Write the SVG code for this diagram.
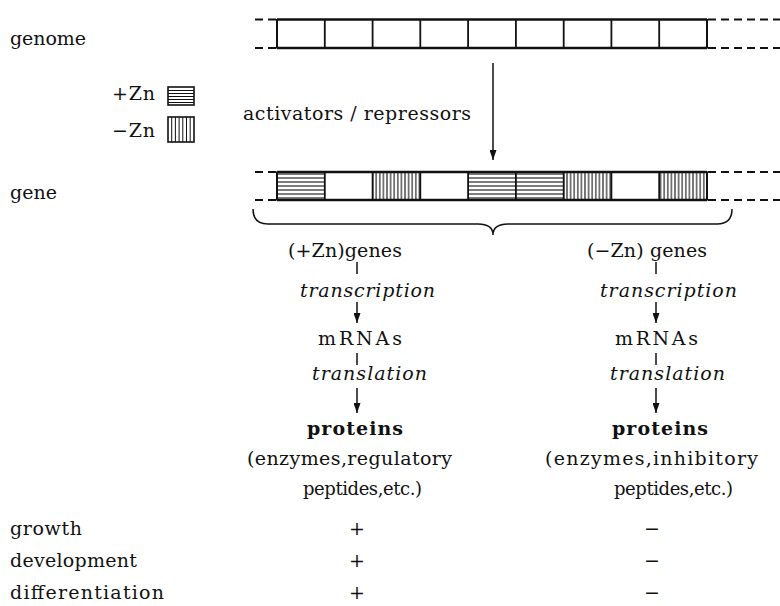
<svg xmlns="http://www.w3.org/2000/svg" width="780" height="606" viewBox="0 0 780 606">
<style>
text{font-family:"DejaVu Serif","Liberation Serif",serif;font-size:19px;fill:#111}
.it{font-style:italic}
.b{font-weight:bold}
.sm{font-size:18px}
.bar{fill:none;stroke:#111;stroke-width:2.6}
.side{stroke:#111;stroke-width:2}
.div{stroke:#111;stroke-width:1.8}
.dash{stroke:#111;stroke-width:1.8;stroke-dasharray:8 5;fill:none}
.ln{stroke:#111;stroke-width:1.5;fill:none}
.hl{stroke:#111;stroke-width:1}
</style>
<defs>
<pattern id="hh" patternUnits="userSpaceOnUse" x="0" y="172" width="8" height="4"><line x1="0" y1="2" x2="8" y2="2" stroke="#111" stroke-width="1.1"/></pattern>
<pattern id="vv" patternUnits="userSpaceOnUse" x="0" y="0" width="3.6" height="8"><line x1="1.8" y1="0" x2="1.8" y2="8" stroke="#111" stroke-width="1.1"/></pattern>
<marker id="ah" markerWidth="10" markerHeight="7" refX="10" refY="3.5" orient="auto" markerUnits="userSpaceOnUse" viewBox="0 0 10 7"><path d="M0,0 L10,3.5 L0,7 Z" fill="#111"/></marker>
</defs>

<g id="labels">
<text x="10" y="45" textLength="76" lengthAdjust="spacing">genome</text>
<text x="10" y="199" textLength="47" lengthAdjust="spacing">gene</text>
<text x="112" y="100" textLength="43" lengthAdjust="spacing">+Zn</text>
<text x="112" y="137" textLength="43" lengthAdjust="spacing">−Zn</text>
<text x="243" y="120" textLength="228" lengthAdjust="spacing">activators / repressors</text>
</g>

<g id="legend-plus">
<rect x="168" y="87" width="26" height="18" fill="none" stroke="#111" stroke-width="1.6"/>
<path class="hl" d="M168,90.5H194M168,93.5H194M168,96.5H194M168,99.5H194M168,102.5H194"/>
</g>
<g id="legend-minus">
<rect x="168" y="117" width="26" height="25" fill="none" stroke="#111" stroke-width="1.6"/>
<path class="hl" d="M171.7,117V142M175.4,117V142M179.1,117V142M182.8,117V142M186.5,117V142M190.2,117V142"/>
</g>

<g id="genome">
<path class="dash" d="M255,19.5H277M255,48H277M708,19.5H780M708,48H780"/>
<path class="bar" d="M277,19.5H707M277,48H707"/>
<path class="side" d="M277,19V48.5M707,19V48.5"/>
<path class="div" d="M324.8,19.5V48M372.6,19.5V48M420.3,19.5V48M468.1,19.5V48M515.9,19.5V48M563.7,19.5V48M611.4,19.5V48M659.2,19.5V48"/>
</g>

<g id="gene">
<rect x="277" y="172" width="47.8" height="28" fill="url(#hh)"/>
<rect x="372.6" y="172" width="47.7" height="28" fill="url(#vv)"/>
<rect x="468.1" y="172" width="95.6" height="28" fill="url(#hh)"/>
<rect x="563.7" y="172" width="47.7" height="28" fill="url(#vv)"/>
<rect x="659.2" y="172" width="47.8" height="28" fill="url(#vv)"/>
<path class="dash" d="M255,172H277M255,200H277M708,172H780M708,200H780"/>
<path class="bar" d="M277,172H707M277,200H707"/>
<path class="side" d="M277,171.5V200.5M707,171.5V200.5"/>
<path class="div" d="M324.8,172V200M372.6,172V200M420.3,172V200M468.1,172V200M515.9,172V200M563.7,172V200M611.4,172V200M659.2,172V200"/>
</g>

<g id="brace">
<path class="ln" d="M253,209 Q253,224 268,224 L478,224 Q493,224 493,235 Q493,224 508,224 L717,224 Q732,224 732,209" stroke-width="1.6"/>
</g>

<g id="connectors">
<line class="ln" x1="493" y1="63" x2="493" y2="160" marker-end="url(#ah)"/>
<line class="ln" x1="357" y1="262" x2="357" y2="274"/>
<line class="ln" x1="357" y1="302" x2="357" y2="323" marker-end="url(#ah)"/>
<line class="ln" x1="357" y1="353" x2="357" y2="365"/>
<line class="ln" x1="357" y1="388" x2="357" y2="413" marker-end="url(#ah)"/>
<line class="ln" x1="656" y1="262" x2="656" y2="274"/>
<line class="ln" x1="656" y1="302" x2="656" y2="323" marker-end="url(#ah)"/>
<line class="ln" x1="656" y1="353" x2="656" y2="365"/>
<line class="ln" x1="656" y1="388" x2="656" y2="413" marker-end="url(#ah)"/>
</g>

<g id="plus-column">
<text x="288" y="257" textLength="114" lengthAdjust="spacing">(+Zn)genes</text>
<text class="it" x="300" y="297" textLength="135" lengthAdjust="spacing">transcription</text>
<text x="318" y="345" textLength="84" lengthAdjust="spacing">mRNAs</text>
<text class="it" x="312" y="380" textLength="115" lengthAdjust="spacing">translation</text>
<text class="b" x="307" y="435" textLength="96" lengthAdjust="spacing">proteins</text>
<text x="247" y="465" textLength="205" lengthAdjust="spacing">(enzymes,regulatory</text>
<text class="sm" x="303" y="495" textLength="119" lengthAdjust="spacing">peptides,etc.)</text>
</g>

<g id="minus-column">
<text x="587" y="257" textLength="120" lengthAdjust="spacing">(−Zn) genes</text>
<text class="it" x="600" y="297" textLength="137" lengthAdjust="spacing">transcription</text>
<text x="615" y="345" textLength="83" lengthAdjust="spacing">mRNAs</text>
<text class="it" x="610" y="380" textLength="115" lengthAdjust="spacing">translation</text>
<text class="b" x="612" y="435" textLength="96" lengthAdjust="spacing">proteins</text>
<text x="545" y="465" textLength="213" lengthAdjust="spacing">(enzymes,inhibitory</text>
<text class="sm" x="614" y="495" textLength="119" lengthAdjust="spacing">peptides,etc.)</text>
</g>

<g id="effects">
<text x="10" y="535" textLength="72" lengthAdjust="spacing">growth</text>
<text x="10" y="567" textLength="127" lengthAdjust="spacing">development</text>
<text x="10" y="599" textLength="154" lengthAdjust="spacing">differentiation</text>
<text x="357" y="535" text-anchor="middle">+</text>
<text x="357" y="567" text-anchor="middle">+</text>
<text x="357" y="599" text-anchor="middle">+</text>
<text x="652" y="535" text-anchor="middle">−</text>
<text x="652" y="567" text-anchor="middle">−</text>
<text x="652" y="599" text-anchor="middle">−</text>
</g>
</svg>
